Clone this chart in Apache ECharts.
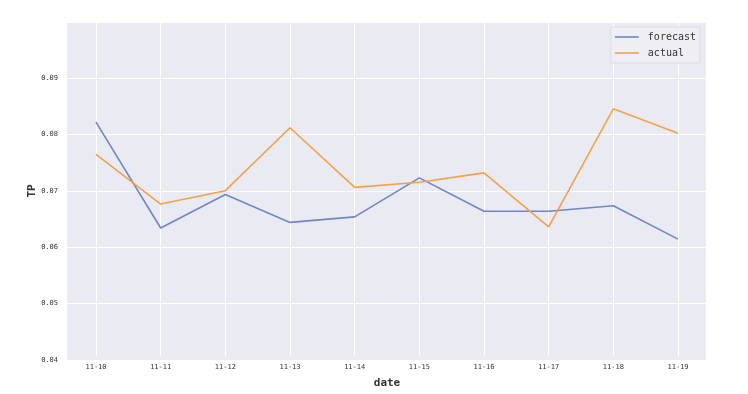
<!DOCTYPE html>
<html>
<head>
<meta charset="utf-8">
<script src="https://cdn.jsdelivr.net/npm/echarts@6/dist/echarts.min.js"></script>
<style>html,body{margin:0;padding:0;background:#fff}#c{width:748px;height:394px}</style>
</head>
<body>
<div id="c"></div>
<script>
const dates = ['11-10','11-11','11-12','11-13','11-14','11-15','11-16','11-17','11-18','11-19'];
const forecast = [0.082,0.063,0.069,0.064,0.065,0.072,0.066,0.066,0.067,0.061];
const actual = [0.0762,0.0673,0.0697,0.0810,0.0703,0.0712,0.0729,0.0632,0.0844,0.0800];
const yTicks = {min:0.04, max:0.1, step:0.01};

const mono = 'DejaVu Sans Mono';
const chart = echarts.init(document.getElementById('c'), null, {renderer:'canvas'});
chart.setOption({
  animation:false,
  backgroundColor:'#ffffff',
  grid:[
    {left:67, right:42, top:22, bottom:34, show:true, backgroundColor:'#eaeaf2', borderWidth:0, z:-1},
    {left:96, right:70, top:22, bottom:34, show:false}
  ],
  xAxis:[
    {gridIndex:0, type:'value', min:0, max:1, show:false},
    {gridIndex:1, type:'category', data:dates, boundaryGap:false,
     name:'date', nameLocation:'middle', nameGap:22, nameMoveOverlap:false,
     nameTextStyle:{fontFamily:mono, fontSize:11, color:'#333', fontWeight:'bold'},
     axisLine:{show:false}, axisTick:{show:false},
     axisLabel:{fontFamily:mono, fontSize:7, color:'#333', margin:8},
     splitLine:{show:true, lineStyle:{color:'#ffffff', width:1}}}
  ],
  yAxis:[
    {gridIndex:0, type:'value', min:yTicks.min, max:yTicks.max, interval:yTicks.step,
     name:'TP', nameLocation:'middle', nameGap:29, nameMoveOverlap:false,
     nameTextStyle:{fontFamily:mono, fontSize:11, color:'#333', fontWeight:'bold'},
     axisLine:{show:false}, axisTick:{show:false},
     axisLabel:{fontFamily:mono, fontSize:7, color:'#333', margin:9, showMaxLabel:false,
       formatter:v=>v.toFixed(2)},
     splitLine:{show:true, lineStyle:{color:'#ffffff', width:1}}},
    {gridIndex:1, type:'value', min:yTicks.min, max:yTicks.max, show:false}
  ],
  legend:{
    right:48, top:27, orient:'vertical',
    backgroundColor:'rgba(238,238,244,0.9)', borderColor:'#dcdce4', borderWidth:1, borderRadius:2,
    padding:[5,4,5,4], itemGap:6, itemWidth:24, itemHeight:1.6, icon:'rect',
    textStyle:{fontFamily:mono, fontSize:10, color:'#333', padding:[0,0,0,4]},
    data:['forecast','actual']
  },
  series:[
    {name:'forecast', type:'line', xAxisIndex:1, yAxisIndex:1, data:forecast, symbol:'none',
     lineStyle:{color:'#6f87c6', width:1.6}, itemStyle:{color:'#6f87c6'}},
    {name:'actual', type:'line', xAxisIndex:1, yAxisIndex:1, data:actual, symbol:'none',
     lineStyle:{color:'#f4a04c', width:1.6}, itemStyle:{color:'#f4a04c'}}
  ]
});
</script>
</body>
</html>
